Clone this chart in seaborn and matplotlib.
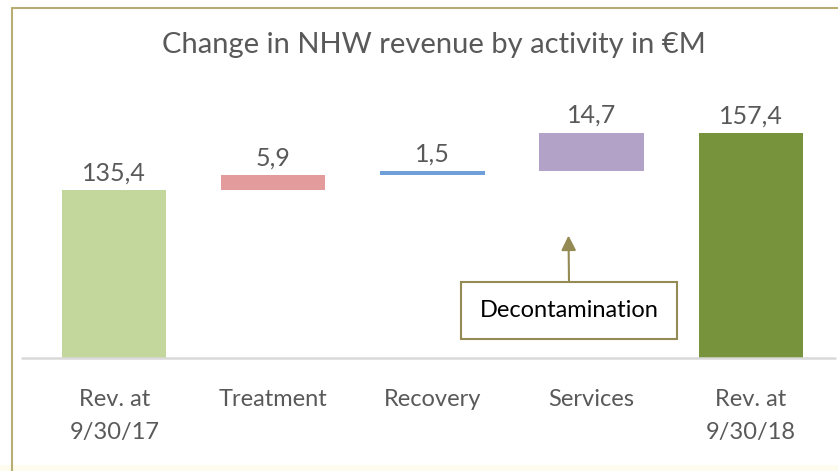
import matplotlib
matplotlib.use("Agg")
import matplotlib.pyplot as plt
import seaborn as sns
import numpy as np
from matplotlib.patches import Rectangle
from matplotlib.lines import Line2D

# data
categories = ["Rev. at\n9/30/17", "Treatment", "Recovery", "Services", "Rev. at\n9/30/18"]
changes = [135.4, 5.9, 1.5, 14.7, 157.4]
is_total = [True, False, False, False, True]
value_labels = ["135,4", "5,9", "1,5", "14,7", "157,4"]
bar_colors = ["#C3D69B", "#E39B9B", "#6F9FD8", "#B3A2C7", "#77933C"]

# waterfall bottoms: totals start at the axis, changes stack on the running sum
bottoms = []
running = 0.0
for val, tot in zip(changes, is_total):
    if tot:
        bottoms.append(0.0)
        running = val
    else:
        bottoms.append(running)
        running += val

TEXT = "#595959"
FONT = "Lato"

sns.set_theme(style="white")
plt.rcParams["font.family"] = [FONT, "DejaVu Sans"]

fig = plt.figure(figsize=(8.38, 4.71), dpi=100)
W, H = 838, 471
ax = fig.add_axes([22 / W, 1 - 358 / H, 813 / W, (358 - 87) / H])

sns.barplot(x=categories, y=changes, bottom=bottoms, width=0.655,
            color="grey", saturation=1, ax=ax)
for patch, c in zip(ax.patches, bar_colors):
    patch.set_facecolor(c)
    patch.set_edgecolor("none")

ax.set_xlim(-0.58, 4.53)
ax.set_ylim(71, 175)

for i, (b, v, lab) in enumerate(zip(bottoms, changes, value_labels)):
    ax.annotate(lab, (i, b + v), xytext=(0, 4), textcoords="offset points",
                ha="center", va="bottom", fontsize=18, color=TEXT)

ax.axhline(71, color="#D9D9D9", lw=1.8, zorder=5, clip_on=False)

for s in ax.spines.values():
    s.set_visible(False)
ax.set_yticks([])
ax.set_xlabel("")
ax.set_ylabel("")
ax.tick_params(axis="x", length=0, pad=22, labelsize=17, labelcolor=TEXT)
for t in ax.get_xticklabels():
    t.set_linespacing(1.75)

# callout box with arrow
ax.annotate("Decontamination", xy=(2.855, 118), xytext=(2.86, 89.2),
            ha="center", va="center", fontsize=17, color="black",
            bbox=dict(boxstyle="square,pad=0.78", fc="white", ec="#948A54", lw=1.5),
            arrowprops=dict(arrowstyle="-|>", color="#948A54", lw=1.5,
                            mutation_scale=22, shrinkA=0, shrinkB=0),
            zorder=6)

fig.text(434 / W, 1 - 45 / H, "Change in NHW revenue by activity in €M",
         ha="center", va="center", fontsize=21, color=TEXT)

# slide frame: cream strip at the bottom, olive lines on left and top
fig.patches.append(Rectangle((0, 0), 1, 6 / H, transform=fig.transFigure,
                             fc="#FDFCEF", ec="none", zorder=0))
fig.lines.append(Line2D([12 / W, 12 / W], [0, 1 - 8 / H], transform=fig.transFigure,
                        color="#B8AE74", lw=1.5))
fig.lines.append(Line2D([12 / W, 1], [1 - 8 / H, 1 - 8 / H], transform=fig.transFigure,
                        color="#B8AE74", lw=1.5))

fig.savefig("out.png", dpi=100)
